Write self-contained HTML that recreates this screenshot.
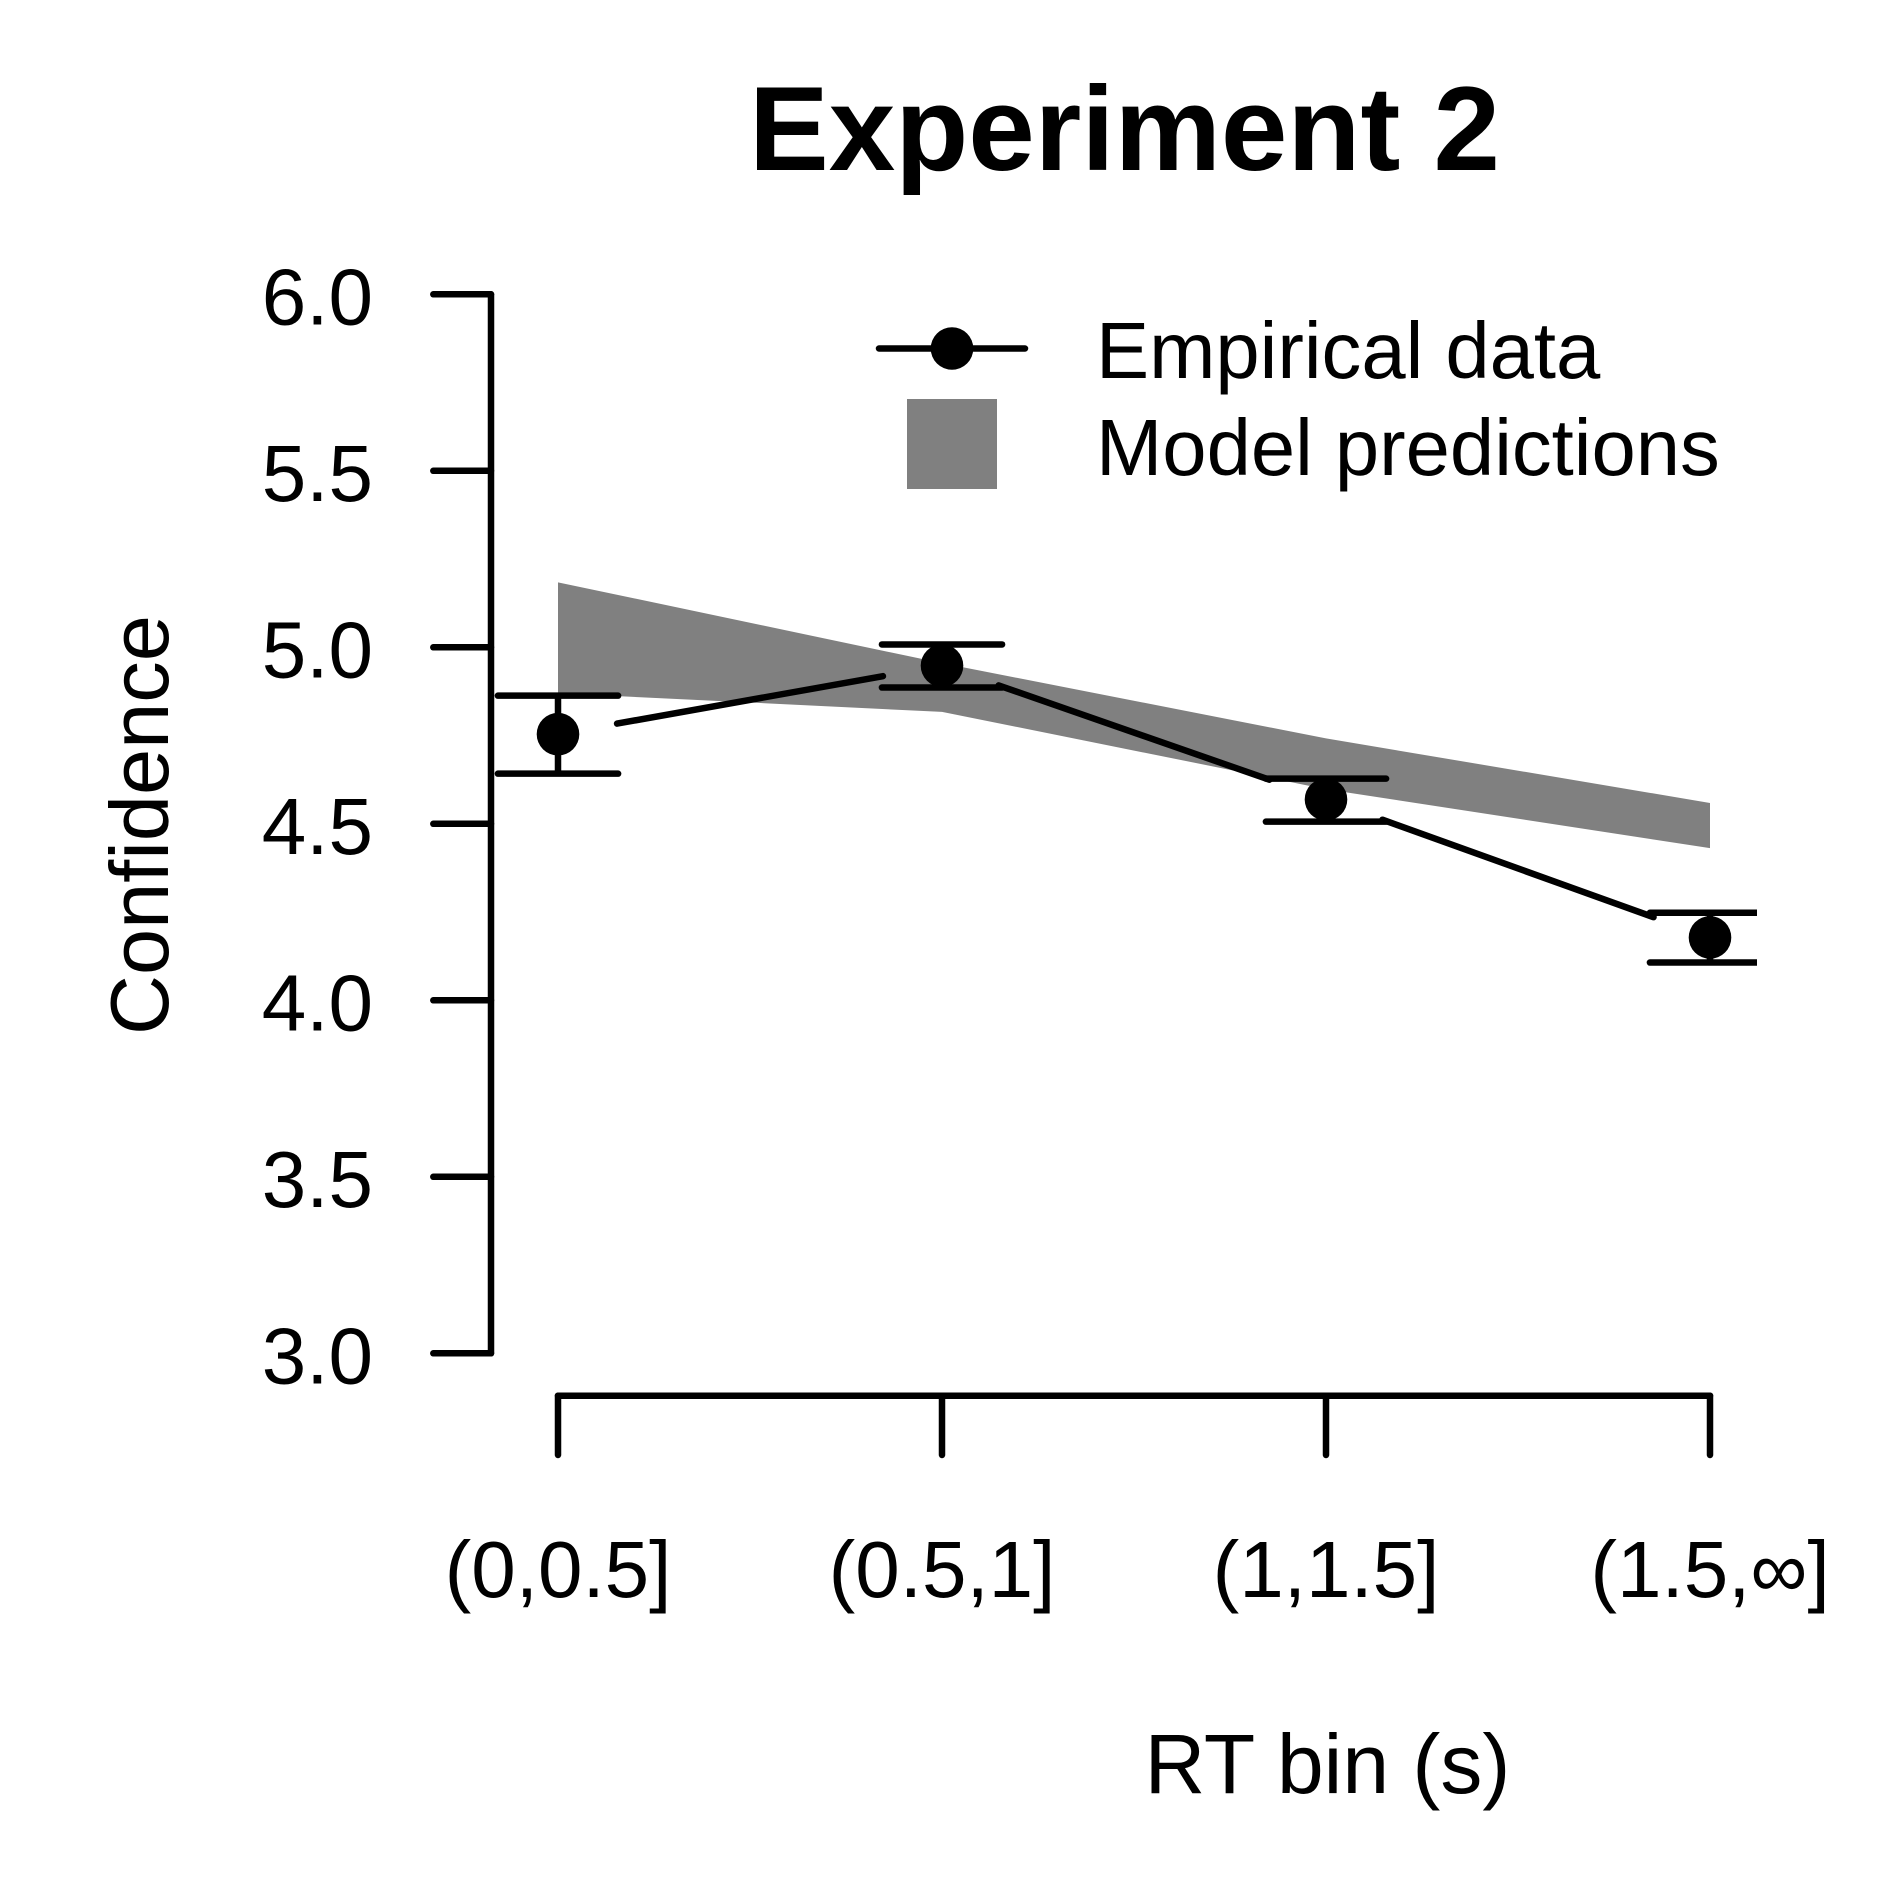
<!DOCTYPE html>
<html lang="en">
<head>
<meta charset="utf-8">
<title>Experiment 2</title>
<style>
html,body{margin:0;padding:0;background:#fff;}
svg{display:block;font-family:"Liberation Sans",Arial,sans-serif;fill:#000;}
</style>
</head>
<body>
<svg id="chart" xmlns="http://www.w3.org/2000/svg" width="1889" height="1889" viewBox="0 0 1889 1889">
<defs><clipPath id="plot-clip"><rect x="0" y="0" width="1757" height="1889"/></clipPath></defs>
<rect x="0" y="0" width="1889" height="1889" fill="#fff"/>
<text x="1124.5" y="170" font-size="119.6" font-weight="700" text-anchor="middle">Experiment 2</text>
<text transform="translate(168 825) rotate(-90)" font-size="83" text-anchor="middle">Confidence</text>
<text x="1327.5" y="1793" font-size="84" text-anchor="middle">RT bin (s)</text>
<g id="model-layer"></g>
<g id="line-layer"></g>
<g id="axis-layer"></g>
<g id="point-layer" clip-path="url(#plot-clip)"></g>
<g>
  <line x1="879" y1="348.5" x2="1025" y2="348.5" stroke="#000" stroke-width="6.5" stroke-linecap="round"/>
  <circle cx="952" cy="348.5" r="21.3" fill="#000"/>
  <rect x="907" y="399" width="90" height="90" fill="#808080"/>
  <text x="1096" y="378" font-size="79.6">Empirical data</text>
  <text x="1096" y="475" font-size="79.6">Model predictions</text>
</g>
</svg>
<script>
const categories = ["(0,0.5]", "(0.5,1]", "(1,1.5]", "(1.5,∞]"];
const empiricalMean = [4.754, 4.948, 4.569, 4.178];
const empiricalUpper = [4.863, 5.008, 4.628, 4.248];
const empiricalLower = [4.642, 4.886, 4.506, 4.107];
const modelUpper = [5.184, 4.955, 4.742, 4.559];
const modelLower = [4.870, 4.817, 4.598, 4.431];
const yTicks = [3.0, 3.5, 4.0, 4.5, 5.0, 5.5, 6.0];
const yTickLabels = ["3.0", "3.5", "4.0", "4.5", "5.0", "5.5", "6.0"];

const NS = "http://www.w3.org/2000/svg";
const STROKE = 6.5;
function xScale(i) { return 558 + i * 384; }
function yScale(v) { return 294.3 + (6 - v) * 353; }
function make(tag, parent, props) {
  const el = document.createElementNS(NS, tag);
  for (const k in props) el.setAttribute(k, props[k]);
  parent.appendChild(el);
  return el;
}
const modelLayer = document.getElementById("model-layer");
const lineLayer = document.getElementById("line-layer");
const axisLayer = document.getElementById("axis-layer");
const pointLayer = document.getElementById("point-layer");

/* model band */
const upperPts = modelUpper.map((v, i) => xScale(i) + "," + yScale(v));
const lowerPts = modelLower.map((v, i) => xScale(i) + "," + yScale(v)).reverse();
const band = make("polygon", modelLayer, { points: upperPts.concat(lowerPts).join(" "), fill: "#808080" });



/* empirical line with gaps around the points (type "b") */
const GAP = 60;
for (let i = 0; i < empiricalMean.length - 1; i++) {
  const x0 = xScale(i), y0 = yScale(empiricalMean[i]);
  const x1 = xScale(i + 1), y1 = yScale(empiricalMean[i + 1]);
  const len = Math.hypot(x1 - x0, y1 - y0);
  const ux = (x1 - x0) / len, uy = (y1 - y0) / len;
  const seg = make("line", lineLayer, {
    x1: x0 + ux * GAP, y1: y0 + uy * GAP, x2: x1 - ux * GAP, y2: y1 - uy * GAP,
    stroke: "#000", "stroke-width": STROKE, "stroke-linecap": "round"
  });
  
  
}

/* y axis */
const yAxis = make("line", axisLayer, {
  x1: 491, y1: yScale(yTicks[yTicks.length - 1]), x2: 491, y2: yScale(yTicks[0]),
  stroke: "#000", "stroke-width": STROKE, "stroke-linecap": "round"
});


yTicks.forEach((v, i) => {
  const tick = make("line", axisLayer, {
    x1: 433.3, y1: yScale(v), x2: 491, y2: yScale(v),
    stroke: "#000", "stroke-width": STROKE, "stroke-linecap": "round"
  });
  
  
  const label = make("text", axisLayer, { x: 373, y: yScale(v) + 30, "font-size": 80, "text-anchor": "end" });
  
  
  label.textContent = yTickLabels[i];
});

/* x axis */
const xAxis = make("line", axisLayer, {
  x1: xScale(0), y1: 1395.7, x2: xScale(categories.length - 1), y2: 1395.7,
  stroke: "#000", "stroke-width": STROKE, "stroke-linecap": "round"
});


categories.forEach((c, i) => {
  const tick = make("line", axisLayer, {
    x1: xScale(i), y1: 1395.7, x2: xScale(i), y2: 1455,
    stroke: "#000", "stroke-width": STROKE, "stroke-linecap": "round"
  });
  
  
  const label = make("text", axisLayer, { x: xScale(i), y: 1597, "font-size": 80, "text-anchor": "middle" });
  
  
  label.textContent = c;
});

/* points and error bars */
const CAP = 60.1;
empiricalMean.forEach((m, i) => {
  const x = xScale(i);
  const stem = make("line", pointLayer, {
    x1: x, y1: yScale(empiricalUpper[i]), x2: x, y2: yScale(empiricalLower[i]),
    stroke: "#000", "stroke-width": STROKE
  });
  
  
  const capUp = make("line", pointLayer, {
    x1: x - CAP, y1: yScale(empiricalUpper[i]), x2: x + CAP, y2: yScale(empiricalUpper[i]),
    stroke: "#000", "stroke-width": STROKE, "stroke-linecap": "round"
  });
  
  
  const capLow = make("line", pointLayer, {
    x1: x - CAP, y1: yScale(empiricalLower[i]), x2: x + CAP, y2: yScale(empiricalLower[i]),
    stroke: "#000", "stroke-width": STROKE, "stroke-linecap": "round"
  });
  
  
  const pt = make("circle", pointLayer, { cx: x, cy: yScale(m), r: 21.3, fill: "#000" });
  
  
});
</script>
</body>
</html>
